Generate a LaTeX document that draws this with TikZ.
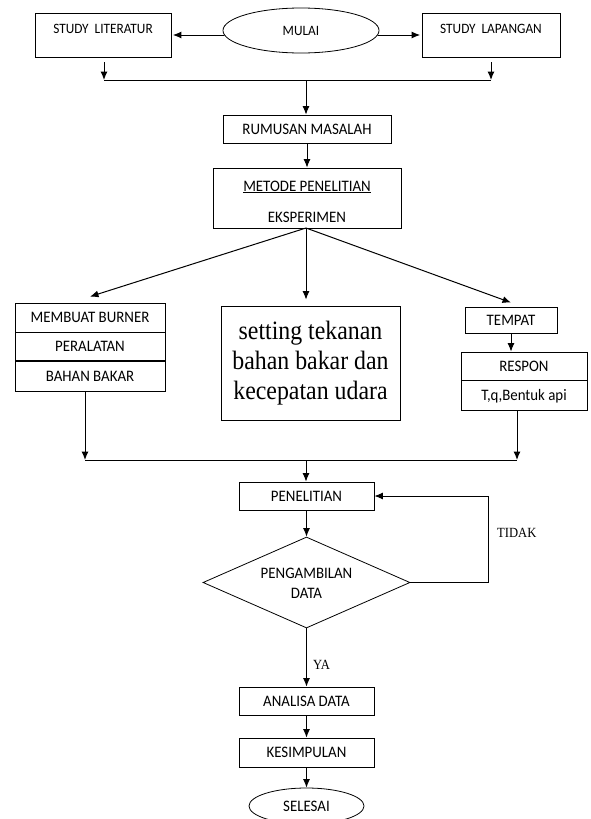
\documentclass[tikz,border=0pt]{standalone}
\usepackage{fontspec}
\setmainfont{Liberation Serif}
\setsansfont{Carlito}
\newfontfamily\calf[FakeStretch=0.93]{Carlito}
\newfontfamily\timf[FakeStretch=0.9]{Liberation Serif}
\usetikzlibrary{shapes.geometric,arrows.meta}
\tikzset{
  box/.style={draw, line width=0.8pt, inner sep=0pt, rectangle},
  sf/.style={font=\calf\fontsize{16}{19}\selectfont, inner sep=0pt},
  sfs/.style={font=\calf\fontsize{14.3}{17}\selectfont, inner sep=0pt},
  oval/.style={draw, line width=0.8pt, ellipse, inner sep=0pt},
  arr/.style={line width=1pt, -{Latex[length=8.5pt,width=7pt]}},
  ln/.style={line width=1pt},
  serif/.style={font=\timf\fontsize{14}{16}\selectfont, inner sep=0pt}
}
\begin{document}
\begin{tikzpicture}[x=1pt,y=-1pt]
\fill[white] (0,0) rectangle (590,819);
\useasboundingbox (0,0) rectangle (590,819);

% top row
\node[box, minimum width=136pt, minimum height=44pt] (lit) at (103,35) {};
\node[sfs] (litt) at (103,29) {STUDY\ \ LITERATUR};
\node[oval, minimum width=156pt, minimum height=45pt, sfs] (mulai) at (301,30.5) {MULAI};
\node[box, minimum width=138pt, minimum height=44pt] (lap) at (491,35) {};
\node[sfs] (lapt) at (491,29) {STUDY\ \ LAPANGAN};

\draw[arr] ([shift={(1.5,4.5)}]mulai.west) -- ([shift={(1.5,4.5)}]mulai.west -| lit.east);
\draw[arr] ([shift={(-1.5,4.5)}]mulai.east) -- ([shift={(-1.5,4.5)}]mulai.east -| lap.west);

\coordinate (jl1) at (104,80);
\coordinate (jr1) at (491,80);
\coordinate (jc1) at (306,80);
\draw[arr] ([yshift=-5pt]lit.south -| jl1) -- (jl1);
\draw[arr] ([yshift=-5pt]lap.south -| jr1) -- (jr1);
\draw[ln] (jl1) -- (jr1);

\node[box, sf, minimum width=168pt, minimum height=28pt] (rum) at (307,129) {RUMUSAN MASALAH};
\draw[arr] (jc1) -- (jc1 |- rum.north);

\node[box, minimum width=188pt, minimum height=60pt] (met) at (307,198) {};
\node[sf] (mett) at (307,187) {\underline{METODE PENELITIAN}};
\node[sf] (eks) at (307,217) {EKSPERIMEN};
\draw[arr] (rum.south) -- (met.north);

% left stack
\node[box, sf, minimum width=150pt, minimum height=29pt] (mb1) at (90,317.5) {MEMBUAT BURNER};
\node[box, sf, minimum width=150pt, minimum height=28pt, anchor=north] (mb2) at (mb1.south) {PERALATAN};
\node[box, sf, minimum width=150pt, minimum height=30pt, anchor=north] (mb3) at (mb2.south) {BAHAN BAKAR};

% middle box
\node[box, minimum width=179pt, minimum height=114pt, align=center,
      font=\timf\fontsize{26.5}{30}\selectfont] (set) at (310.5,363)
      {setting tekanan\\bahan bakar dan\\kecepatan udara};

% right stack
\node[box, sf, minimum width=92pt, minimum height=26pt] (tem) at (511,320) {TEMPAT};
\node[box, sf, minimum width=126pt, minimum height=28pt] (res) at (524,366) {RESPON};
\node[box, sf, minimum width=126pt, minimum height=30pt, anchor=north] (tq) at (res.south) {T,q,Bentuk api};
\draw[arr] (tem.south) -- (tem.south |- res.north);

\coordinate (ms) at (306,228);
\draw[arr] (ms) -- ([yshift=6pt]mb1.north);
\draw[arr] (ms) -- ([yshift=6pt]set.north -| ms);
\draw[arr] (ms) -- ([yshift=4pt]tem.north);

% merge
\coordinate (jl2) at (85,460);
\coordinate (jr2) at (517,460);
\coordinate (jc2) at (306,460);
\draw[arr] (mb3.south -| jl2) -- (jl2);
\draw[arr] (tq.south -| jr2) -- (jr2);
\draw[ln] (jl2) -- (jr2);

\node[box, sf, minimum width=135pt, minimum height=28pt] (pen) at (306.5,496) {PENELITIAN};
\draw[arr] (jc2) -- (jc2 |- pen.north);

\node[draw, line width=0.8pt, diamond, aspect=2.27, minimum width=207pt, minimum height=91pt, inner sep=0pt] (dia) at (306.5,582.5) {};
\node[sf, align=center, font=\calf\fontsize{16}{20}\selectfont] (diat) at (306.5,583) {PENGAMBILAN\\DATA};
\draw[arr] (pen.south) -- (dia.north);

\coordinate (fb) at (488,496);
\draw[arr] (dia.east) -| (fb) -- (pen.east);
\node[serif, anchor=west] (tidak) at (497,533) {TIDAK};

\node[box, sf, minimum width=135pt, minimum height=28pt] (ana) at (306.5,701) {ANALISA DATA};
\draw[arr] (dia.south) -- (ana.north);
\node[serif, anchor=west] (ya) at (313,665) {YA};

\node[box, sf, minimum width=135pt, minimum height=29pt] (kes) at (306.5,752.5) {KESIMPULAN};
\draw[arr] (ana.south) -- (kes.north);

\node[oval, sf, minimum width=115pt, minimum height=36pt] (sel) at (306.5,806) {SELESAI};
\draw[arr] (kes.south) -- (sel.north);
\end{tikzpicture}
\end{document}
